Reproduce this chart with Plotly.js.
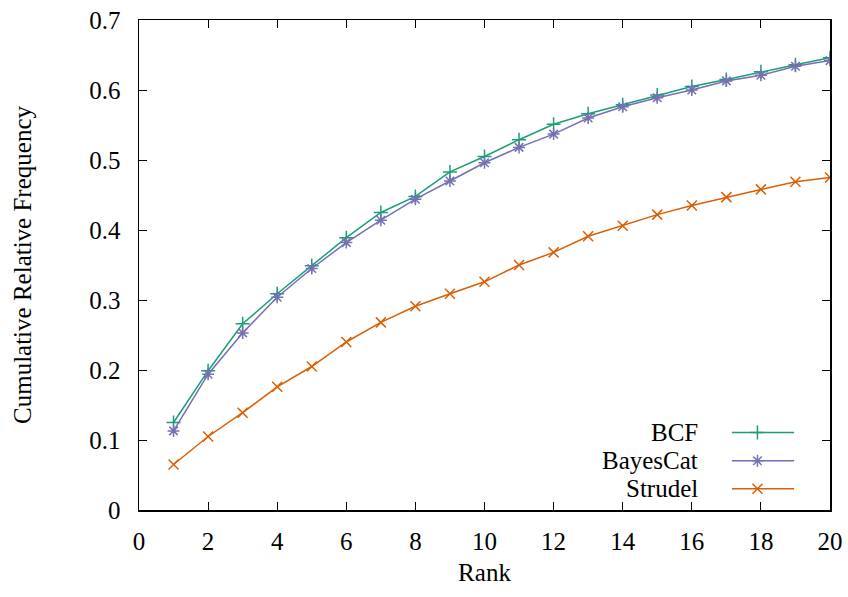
<!DOCTYPE html>
<html>
<head>
<meta charset="utf-8">
<script src="https://cdn.plot.ly/plotly-3.0.1.min.js"></script>
<style>html,body{margin:0;padding:0;background:#fff;}#chart{width:848px;height:597px;}</style>
</head>
<body>
<div id="chart"></div>
<script>
const rank = [1,2,3,4,5,6,7,8,9,10,11,12,13,14,15,16,17,18,19,20];
const bcf = [0.125,0.199,0.266,0.309,0.349,0.389,0.425,0.448,0.483,0.505,0.529,0.551,0.566,0.579,0.593,0.605,0.615,0.626,0.636,0.646];
const bayesCat = [0.113,0.194,0.253,0.304,0.345,0.382,0.414,0.444,0.470,0.496,0.518,0.537,0.560,0.576,0.589,0.600,0.613,0.621,0.634,0.642];
const strudel = [0.065,0.105,0.139,0.176,0.205,0.240,0.268,0.291,0.309,0.326,0.350,0.368,0.391,0.406,0.422,0.435,0.447,0.458,0.469,0.475];
const seriesNames = ["BCF","BayesCat","Strudel"];
const seriesColors = ["#1b9e77","#7570b3","#d95f02"];
const seriesSymbols = ["cross-thin-open","asterisk-open","x-thin-open"];
const seriesData = [bcf, bayesCat, strudel];

const FONT = "Liberation Serif, Times New Roman, serif";
const FS = 25;
const traces = seriesData.map((ys, i) => ({
  x: rank, y: ys, type: "scatter", mode: "lines+markers", name: seriesNames[i],
  line: {color: seriesColors[i], width: 1.5},
  marker: {symbol: seriesSymbols[i], size: 10, color: seriesColors[i], line: {color: seriesColors[i], width: 1.5}},
  showlegend: false
}));

// custom gnuplot-style key: text right-aligned, sample to the right
const keyY = [0.158, 0.1005, 0.0435];
const keyTextX = 0.812, keyLine0 = 0.858, keyLine1 = 0.948, keyMark = 0.895;
const shapes = [];
const annotations = [];
seriesNames.forEach((n, i) => {
  shapes.push({type: "line", xref: "paper", yref: "paper", x0: keyLine0, x1: keyLine1, y0: keyY[i], y1: keyY[i],
    line: {color: seriesColors[i], width: 1.5}});
  annotations.push({xref: "paper", yref: "paper", x: keyTextX, y: keyY[i], xanchor: "right", yanchor: "middle",
    text: n, showarrow: false, font: {family: FONT, size: FS, color: "#000"}});
});
traces.push({
  x: seriesNames.map(() => keyMark), y: keyY, xaxis: "x2", yaxis: "y2", type: "scatter", mode: "markers",
  marker: {symbol: seriesSymbols, size: 10, color: seriesColors, line: {color: seriesColors, width: 1.5}},
  showlegend: false, hoverinfo: "skip"
});

const layout = {
  width: 848, height: 597,
  margin: {l: 139, r: 18, t: 20, b: 87},
  paper_bgcolor: "#fff", plot_bgcolor: "#fff",
  font: {family: FONT, size: FS, color: "#000"},
  showlegend: false,
  xaxis: {range: [0, 20], dtick: 2, tick0: 0, ticks: "inside", ticklen: 8, tickwidth: 1, tickcolor: "#000",
    showline: true, linecolor: "#000", linewidth: 1.5, mirror: "allticks", showgrid: false, zeroline: false,
    tickfont: {family: FONT, size: FS}, ticklabelstandoff: 8,
    title: {text: "Rank", font: {family: FONT, size: FS}, standoff: 10}},
  yaxis: {range: [0, 0.7], dtick: 0.1, tick0: 0, ticks: "inside", ticklen: 8, tickwidth: 1, tickcolor: "#000",
    showline: true, linecolor: "#000", linewidth: 1.5, mirror: "allticks", showgrid: false, zeroline: false,
    tickfont: {family: FONT, size: FS}, ticklabelstandoff: 12,
    title: {text: "Cumulative Relative Frequency", font: {family: FONT, size: FS}, standoff: 50}},
  xaxis2: {domain: [0, 1], range: [0, 1], overlaying: "x", visible: false, anchor: "y2"},
  yaxis2: {domain: [0, 1], range: [0, 1], overlaying: "y", visible: false, anchor: "x2"},
  shapes: shapes,
  annotations: annotations
};

Plotly.newPlot("chart", traces, layout, {displayModeBar: false, staticPlot: true});
</script>
</body>
</html>
